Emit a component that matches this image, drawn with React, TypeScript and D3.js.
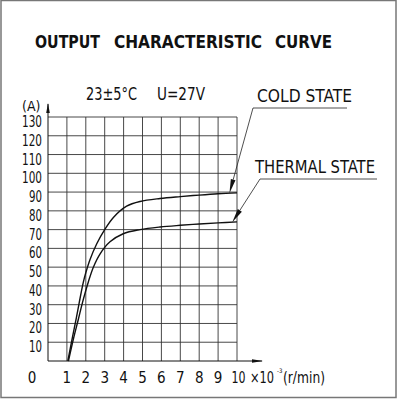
import React from 'react';
import * as d3 from 'd3';

// speed in 10^3 r/min, current in A
const coldRpm = [1.05, 1.3, 1.5, 1.65, 1.87, 2.0, 2.22, 2.58, 3.0, 3.46, 4.16, 4.87, 5.93, 7, 8, 9, 10];
const coldAmp = [0, 13, 23, 31, 42, 47, 54, 62.5, 70, 76.5, 82.5, 85, 86.6, 87.6, 88.4, 89.1, 89.6];
const thermalRpm = [1.08, 1.35, 1.6, 1.82, 2.13, 2.4, 2.75, 3.28, 3.98, 4.87, 5.93, 7, 8, 9, 10];
const thermalAmp = [0, 12, 22, 31, 42, 50, 57, 63.5, 67.8, 70, 71.4, 72.3, 73, 73.6, 74.1];
const yTicks = [10, 20, 30, 40, 50, 60, 70, 80, 90, 100, 110, 120, 130];
const xTicks = [1, 2, 3, 4, 5, 6, 7, 8, 9];
const titleWords = ['OUTPUT', 'CHARACTERISTIC', 'CURVE'];

const FONT = '"Liberation Sans Narrow", "DejaVu Sans Condensed", "Arial Narrow", sans-serif';

const x = d3.scaleLinear().domain([0, 10]).range([48, 237]);
const y = d3.scaleLinear().domain([0, 130]).range([361, 117]);

const line = d3.line<[number, number]>()
  .x(d => x(d[0]))
  .y(d => y(d[1]))
  .curve(d3.curveCatmullRom.alpha(0.5));

const cold = coldRpm.map((r, i) => [r, coldAmp[i]] as [number, number]);
const thermal = thermalRpm.map((r, i) => [r, thermalAmp[i]] as [number, number]);

function ampAt(xs: number[], ys: number[], v: number) {
  return d3.scaleLinear().domain(xs).range(ys)(v);
}

function Leader({ sx, sy, ex, tx, ty }: { sx: number; sy: number; ex: number; tx: number; ty: number }) {
  const dx = tx - sx, dy = ty - sy;
  const len = Math.sqrt(dx * dx + dy * dy);
  const ux = dx / len, uy = dy / len;
  const L = 14, w = 2.4;
  const bx = tx - ux * L, by = ty - uy * L;
  const pts = [
    [tx, ty],
    [bx - uy * w, by + ux * w],
    [bx + uy * w, by - ux * w],
  ].map(p => p.join(',')).join(' ');
  return (
    <g>
      <line x1={sx} y1={sy} x2={ex} y2={sy} stroke="#222" strokeWidth={0.8} />
      <line x1={sx} y1={sy} x2={bx} y2={by} stroke="#222" strokeWidth={0.8} />
      <polygon points={pts} fill="#111" />
    </g>
  );
}

// title word positions [x, width]
const titlePos = [[35, 65], [114, 148], [275, 57]];

export default function App() {
  const coldTipX = x(9.6), coldTipY = y(ampAt(coldRpm, coldAmp, 9.6));
  const thTipX = x(9.75), thTipY = y(ampAt(thermalRpm, thermalAmp, 9.75));
  return (
    <svg width={397} height={400} style={{ position: 'absolute', left: 0, top: 0, background: '#fff' }}
      fontFamily={FONT}>
      <rect x={1} y={0.5} width={395} height={397} fill="#fff" stroke="#777" strokeWidth={1.5} />

      <g fontFamily='"DejaVu Sans Condensed", "Liberation Sans Narrow", sans-serif' fontWeight="bold"
        fontSize={18.5} fill="#111">
        {titleWords.map((w, i) => (
          <text key={w} x={titlePos[i][0]} y={48} textLength={titlePos[i][1]} lengthAdjust="spacingAndGlyphs">{w}</text>
        ))}
      </g>

      <text x={86} y={100} fontSize={17} textLength={51} lengthAdjust="spacingAndGlyphs" fill="#111">23±5°C</text>
      <text x={157} y={100} fontSize={17} textLength={48} lengthAdjust="spacingAndGlyphs" fill="#111">U=27V</text>
      <text x={257} y={102} fontSize={18} textLength={95} lengthAdjust="spacingAndGlyphs" fill="#111">COLD STATE</text>
      <text x={255} y={173} fontSize={18} textLength={120} lengthAdjust="spacingAndGlyphs" fill="#111">THERMAL STATE</text>

      {/* grid */}
      <g stroke="#333" strokeWidth={0.9}>
        {yTicks.map(t => (
          <line key={'h' + t} x1={x(0)} x2={x(10)} y1={y(t)} y2={y(t)} />
        ))}
        {[...xTicks, 10].map(t => (
          <line key={'v' + t} x1={x(t)} x2={x(t)} y1={y(0)} y2={y(130)} />
        ))}
      </g>

      {/* axes */}
      <g stroke="#111" strokeWidth={1}>
        <line x1={x(0)} x2={x(0)} y1={y(0)} y2={104} />
        <line x1={x(0)} x2={262} y1={y(0)} y2={y(0)} />
      </g>
      <polygon points={`${x(0)},103 ${x(0) - 1.8},113 ${x(0) + 1.8},113`} fill="#111" />
      <polygon points={`263,${y(0)} 252,${y(0) - 1.8} 252,${y(0) + 1.8}`} fill="#111" />

      {/* y labels */}
      <g fontSize={15} fill="#111" textAnchor="end">
        {yTicks.map(t => (
          <text key={t} x={42} y={y(t) + 10} textLength={t >= 100 ? 20 : 13} lengthAdjust="spacingAndGlyphs">{t}</text>
        ))}
      </g>
      <text x={22} y={111} fontSize={14} fill="#111">(A)</text>

      {/* x labels */}
      <g fontSize={15} fill="#111" textAnchor="middle">
        <text x={32} y={383}>0</text>
        {xTicks.map(t => (
          <text key={t} x={x(t)} y={383}>{t}</text>
        ))}
      </g>
      <text x={231.5} y={383} fontSize={15} fill="#111" textLength={14} lengthAdjust="spacingAndGlyphs">10</text>
      <text x={250} y={383} fontSize={15} fill="#111" textLength={24} lengthAdjust="spacingAndGlyphs">×10</text>
      <text x={277} y={373} fontSize={6} fill="#111">-3</text>
      <text x={283} y={383} fontSize={15} fill="#111" textLength={42} lengthAdjust="spacingAndGlyphs">(r/min)</text>

      {/* curves */}
      <path d={line(cold) || ''} fill="none" stroke="#111" strokeWidth={1.4} />
      <path d={line(thermal) || ''} fill="none" stroke="#111" strokeWidth={1.4} />

      <Leader sx={253} sy={108} ex={347} tx={coldTipX} ty={coldTipY} />
      <Leader sx={260} sy={179} ex={377} tx={thTipX} ty={thTipY} />
    </svg>
  );
}
